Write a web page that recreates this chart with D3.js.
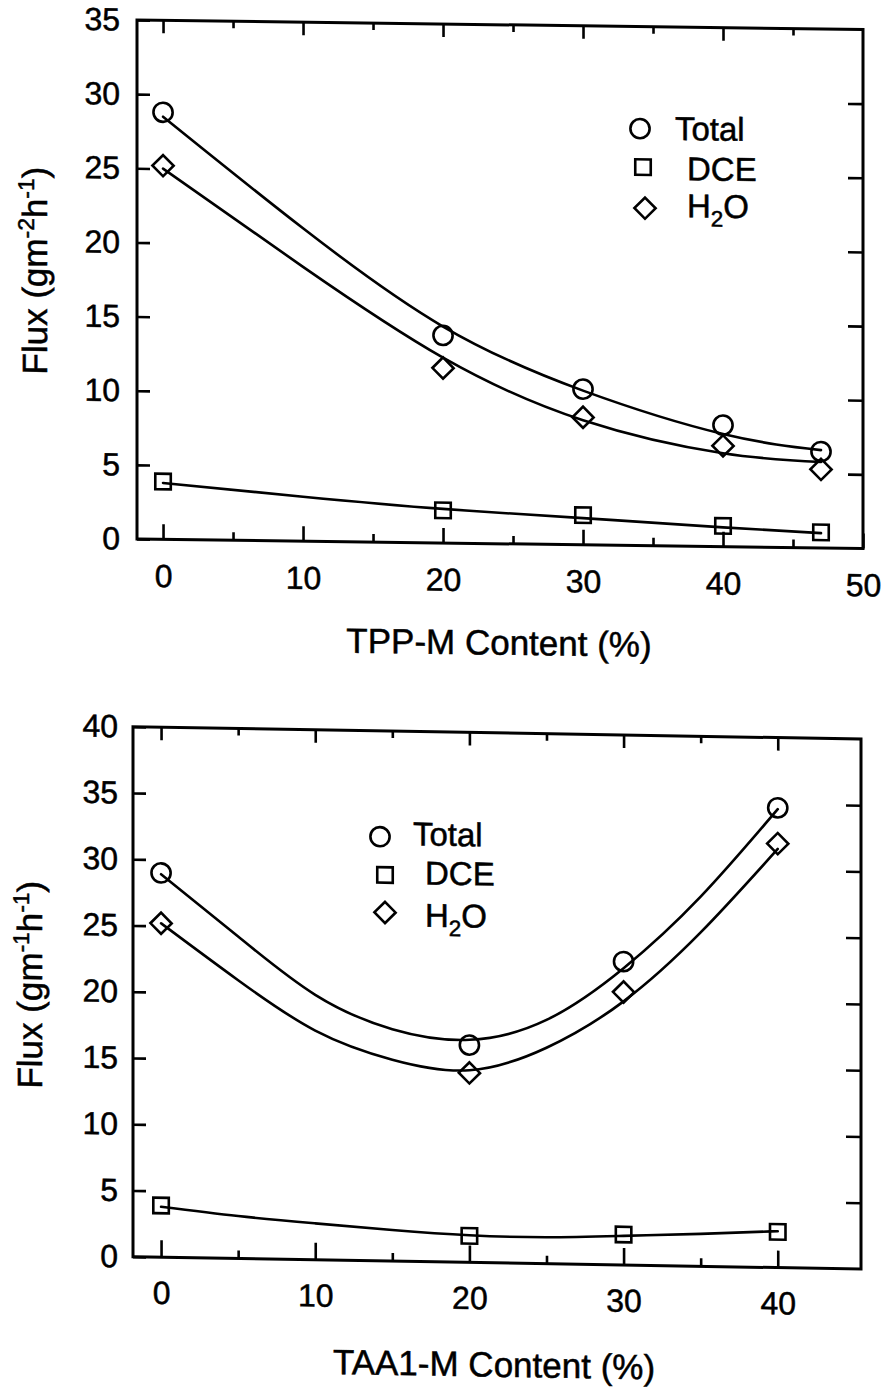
<!DOCTYPE html>
<html>
<head>
<meta charset="utf-8">
<script src="https://cdn.jsdelivr.net/npm/d3@7"></script>
<style>
  html, body { margin: 0; padding: 0; background: #fff; }
  svg { display: block; }
  text { font-family: "Liberation Sans", Arial, Helvetica, sans-serif; fill: #000; stroke: #000; stroke-width: 0.5px; }
</style>
</head>
<body>
<svg id="fig" width="887" height="1390"></svg>
<script>
// ---- Panel 1: flux versus TPP-M content ----
const tppContent = [0, 20, 30, 40, 47];
const tppTotal   = [28.8, 14.0, 10.5, 8.2, 6.5];
const tppDCE     = [3.9, 2.2, 2.0, 1.4, 1.05];
const tppH2O     = [25.2, 11.8, 8.6, 6.8, 5.3];
// fitted trend lines, sampled along the content axis
const tppFitX     = [0, 10, 20, 30, 40, 47];
const tppFitTotal = [28.5, 21.1, 14.6, 10.4, 7.6, 6.6];
const tppFitH2O   = [25.0, 18.5, 12.5, 8.4, 6.3, 5.8];
const tppFitDCE   = [3.8, 3.0, 2.3, 1.8, 1.3, 1.0];
const tppXTicks = [0, 10, 20, 30, 40, 50];
const tppXMinor = [5, 15, 25, 35, 45];
const tppYTicks = [0, 5, 10, 15, 20, 25, 30, 35];

// ---- Panel 2: flux versus TAA1-M content ----
const taaContent = [0, 20, 30, 40];
const taaTotal   = [29.0, 16.4, 22.9, 34.7];
const taaDCE     = [3.9, 2.0, 2.3, 2.7];
const taaH2O     = [25.2, 14.3, 20.6, 32.0];
const taaFitX     = [0, 5, 10, 15, 20, 25, 30, 35, 40];
const taaFitTotal = [28.9, 24.3, 20.0, 17.5, 16.8, 18.4, 22.4, 27.9, 34.6];
const taaFitH2O   = [25.2, 21.0, 17.3, 15.2, 14.5, 16.3, 19.9, 25.2, 31.6];
const taaFitDCE   = [3.8, 3.2, 2.75, 2.35, 2.05, 2.0, 2.2, 2.45, 2.75];
const taaXTicks = [0, 10, 20, 30, 40];
const taaXMinor = [5, 15, 25, 35];
const taaYTicks = [0, 5, 10, 15, 20, 25, 30, 35, 40];

const seriesNames = ["Total", "DCE", "H2O"];

const svg = d3.select("#fig");
const FONT_TICK = 32, FONT_TITLE = 35, FONT_LEG = 33;

function markerPath(kind) {
  if (kind === "Total") return d3.symbol(d3.symbolCircle, Math.PI * 9.6 * 9.6)();
  if (kind === "DCE") return d3.symbol(d3.symbolSquare, 15.5 * 15.5)();
  return d3.symbol(d3.symbolSquare, 15 * 15)();
}
function markerRotation(kind) { return kind === "H2O" ? 45 : 0; }

function drawPanel(cfg) {
  const g = svg.append("g")
    .attr("transform", `translate(${cfg.left},0) skewY(${cfg.skew}) translate(${-cfg.left},0)`);

  const x = d3.scaleLinear().domain(cfg.xDomain).range([cfg.left, cfg.right]);
  const y = d3.scaleLinear().domain(cfg.yDomain).range([cfg.bottom, cfg.top]);

  const styleAxis = sel => {
    sel.select(".domain").remove();
    sel.selectAll(".tick line").attr("stroke", "#000").attr("stroke-width", 2.6);
    sel.selectAll(".tick text").attr("font-size", FONT_TICK)
      .attr("font-family", '"Liberation Sans", Arial, Helvetica, sans-serif').attr("fill", "#000");
    sel.attr("font-size", FONT_TICK);
  };

  // bottom axis: labelled majors + minors, ticks pointing inward
  g.append("g").attr("transform", `translate(0,${cfg.bottom})`)
    .call(d3.axisBottom(x).tickValues(cfg.xTicks).tickSize(-cfg.xMajorLen).tickPadding(cfg.xPad).tickFormat(d3.format("d")))
    .call(styleAxis);
  g.append("g").attr("transform", `translate(0,${cfg.bottom})`)
    .call(d3.axisBottom(x).tickValues(cfg.xMinor).tickSize(-8).tickFormat(""))
    .call(styleAxis);
  // top axis (unlabelled)
  g.append("g").attr("transform", `translate(0,${cfg.top})`)
    .call(d3.axisTop(x).tickValues(cfg.xTicks.filter(v => x(v) < cfg.right - 2)).tickSize(-13).tickFormat(""))
    .call(styleAxis);
  g.append("g").attr("transform", `translate(0,${cfg.top})`)
    .call(d3.axisTop(x).tickValues(cfg.xMinor).tickSize(-7).tickFormat(""))
    .call(styleAxis);
  // left axis with labels
  g.append("g").attr("transform", `translate(${cfg.left},0)`)
    .call(d3.axisLeft(y).tickValues(cfg.yTicks).tickSize(-13).tickPadding(cfg.yPad).tickFormat(d3.format("d")))
    .call(styleAxis);
  // right axis (unlabelled)
  g.append("g").attr("transform", `translate(${cfg.right},0)`)
    .call(d3.axisRight(y).tickValues(cfg.yTicks.slice(1, -1)).tickSize(-15).tickFormat(""))
    .call(styleAxis);

  // frame
  g.append("rect")
    .attr("x", cfg.left).attr("y", cfg.top)
    .attr("width", cfg.right - cfg.left).attr("height", cfg.bottom - cfg.top)
    .attr("fill", "none").attr("stroke", "#000").attr("stroke-width", 3);

  // fitted curves
  const line = d3.line().x(d => x(d[0])).y(d => y(d[1])).curve(d3.curveNatural);
  cfg.fits.forEach(f => {
    g.append("path")
      .attr("d", line(d3.zip(f.x, f.y)))
      .attr("fill", "none").attr("stroke", "#000").attr("stroke-width", 2.6)
      .attr("stroke-linejoin", "round").attr("stroke-linecap", "round");
  });

  // measured points
  cfg.series.forEach(s => {
    g.append("g").selectAll("path")
      .data(d3.zip(cfg.xs, s.values))
      .join("path")
      .attr("d", markerPath(s.name))
      .attr("transform", d => `translate(${x(d[0])},${y(d[1])}) rotate(${markerRotation(s.name)})`)
      .attr("fill", "none").attr("stroke", "#000").attr("stroke-width", 2.6);
  });

  // legend
  const leg = g.append("g");
  seriesNames.forEach((name, i) => {
    const row = cfg.legend.rows[i];
    leg.append("path")
      .attr("d", markerPath(name))
      .attr("transform", `translate(${row.mx},${row.my}) rotate(${markerRotation(name)})`)
      .attr("fill", "none").attr("stroke", "#000").attr("stroke-width", 2.6);
    const t = leg.append("text").attr("x", row.tx).attr("y", row.ty).attr("font-size", FONT_LEG);
    if (name === "H2O") {
      t.append("tspan").text("H");
      t.append("tspan").attr("font-size", FONT_LEG * 0.68).attr("dy", 9).text("2");
      t.append("tspan").attr("dy", -9).text("O");
    } else {
      t.text(name);
    }
  });

  // x axis title
  g.append("text")
    .attr("x", cfg.xTitle.x).attr("y", cfg.xTitle.y)
    .attr("text-anchor", "middle").attr("font-size", FONT_TITLE)
    .text(cfg.xTitle.text);

  // y axis title with superscripted units
  const yt = g.append("text")
    .attr("transform", `translate(${cfg.yTitle.x},${cfg.yTitle.y}) rotate(-90)`)
    .attr("text-anchor", "middle").attr("font-size", FONT_TITLE);
  yt.append("tspan").text("Flux (gm");
  yt.append("tspan").attr("font-size", FONT_TITLE * 0.65).attr("dy", -13).text(cfg.yTitle.exp1);
  yt.append("tspan").attr("dy", 13).text("h");
  yt.append("tspan").attr("font-size", FONT_TITLE * 0.65).attr("dy", -13).text("-1");
  yt.append("tspan").attr("dy", 13).text(")");
}

drawPanel({
  left: 137, right: 863, top: 20, bottom: 539, skew: 0.75,
  xDomain: [-1.86, 50], yDomain: [0, 35],
  xTicks: tppXTicks, xMinor: tppXMinor, yTicks: tppYTicks,
  xMajorLen: 15, xPad: 25, yPad: 17,
  xs: tppContent,
  series: [
    { name: "Total", values: tppTotal },
    { name: "DCE", values: tppDCE },
    { name: "H2O", values: tppH2O }
  ],
  fits: [
    { x: tppFitX, y: tppFitTotal },
    { x: tppFitX, y: tppFitH2O },
    { x: tppFitX, y: tppFitDCE }
  ],
  legend: { rows: [
    { mx: 640, my: 122, tx: 675, ty: 133 },
    { mx: 643, my: 160.5, tx: 687, ty: 173 },
    { mx: 645, my: 201.5, tx: 687, ty: 210 }
  ]},
  xTitle: { x: 499, y: 650, text: "TPP-M Content (%)" },
  yTitle: { x: 47, y: 272, exp1: "-2" }
});

drawPanel({
  left: 133, right: 861, top: 726.7, bottom: 1256.7, skew: 0.97,
  xDomain: [-1.82, 45.4], yDomain: [0, 40],
  xTicks: taaXTicks, xMinor: taaXMinor, yTicks: taaYTicks,
  xMajorLen: 17, xPad: 24, yPad: 15,
  xs: taaContent,
  series: [
    { name: "Total", values: taaTotal },
    { name: "DCE", values: taaDCE },
    { name: "H2O", values: taaH2O }
  ],
  fits: [
    { x: taaFitX, y: taaFitTotal },
    { x: taaFitX, y: taaFitH2O },
    { x: taaFitX, y: taaFitDCE }
  ],
  legend: { rows: [
    { mx: 380, my: 832.5, tx: 413, ty: 840.5 },
    { mx: 385, my: 870.7, tx: 425, ty: 879.5 },
    { mx: 385, my: 908.2, tx: 425, ty: 921.7 }
  ]},
  xTitle: { x: 494, y: 1370.6, text: "TAA1-M Content (%)" },
  yTitle: { x: 42, y: 986.5, exp1: "-1" }
});
</script>
</body>
</html>
